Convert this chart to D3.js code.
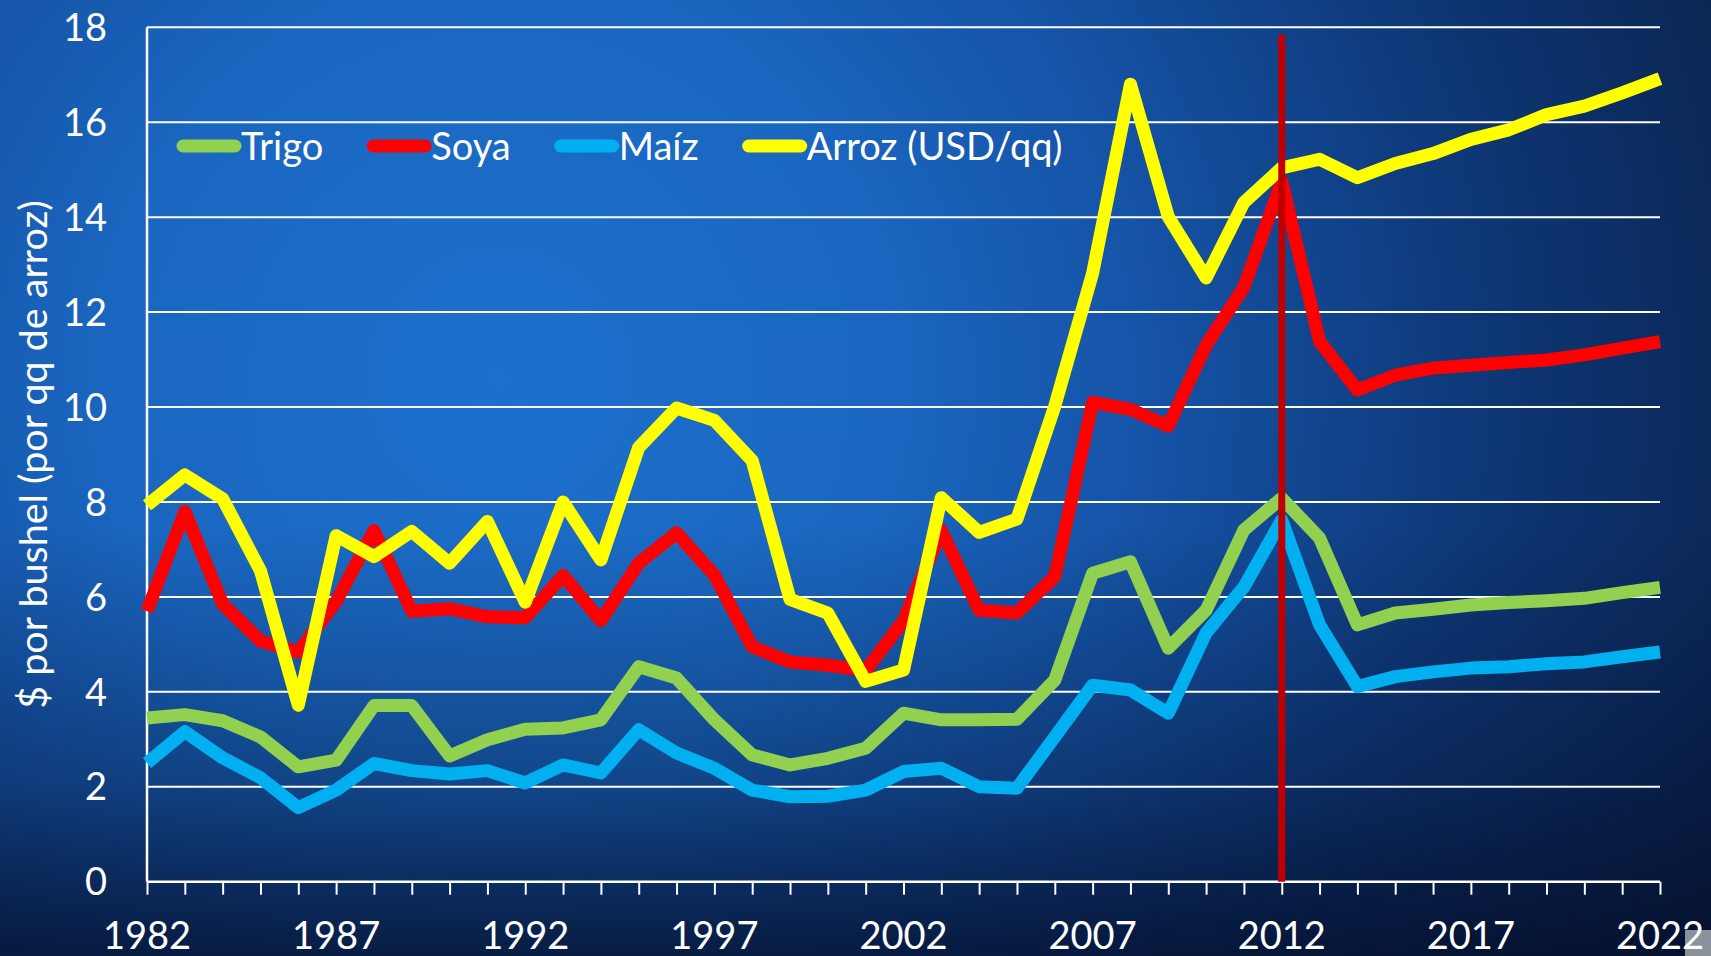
<!DOCTYPE html>
<html>
<head>
<meta charset="utf-8">
<script src="https://cdn.jsdelivr.net/npm/d3@7"></script>
<style>
  html, body { margin: 0; padding: 0; background: #0a2656; overflow: hidden; }
  svg { display: block; }
  text { font-family: Lato, "Open Sans", sans-serif; fill: #ffffff; }
</style>
</head>
<body>
<script>
// ---- data ----
const years = d3.range(1982, 2023);
const seriesNames = ["Trigo", "Soya", "Maíz", "Arroz (USD/qq)"];
const seriesColors = ["#92D050", "#FF0000", "#00B0F0", "#FFFF00"];
const trigo = [3.45, 3.52, 3.39, 3.05, 2.42, 2.56, 3.71, 3.71, 2.65, 2.99,
               3.21, 3.24, 3.41, 4.53, 4.29, 3.41, 2.67, 2.46, 2.60, 2.81,
               3.55, 3.41, 3.41, 3.42, 4.25, 6.50, 6.74, 4.92, 5.72, 7.41,
               8.08, 7.24, 5.41, 5.66, 5.74, 5.83, 5.88, 5.92, 5.97, 6.09, 6.20];
const soya  = [5.70, 7.80, 5.85, 5.07, 4.84, 5.90, 7.40, 5.70, 5.75, 5.58,
               5.56, 6.45, 5.50, 6.71, 7.35, 6.46, 4.95, 4.63, 4.56, 4.45,
               5.50, 7.40, 5.72, 5.66, 6.43, 10.10, 9.95, 9.60, 11.30, 12.53,
               14.75, 11.38, 10.36, 10.67, 10.82, 10.88, 10.94, 10.99, 11.10, 11.24, 11.38];
const maiz  = [2.50, 3.16, 2.61, 2.19, 1.56, 1.93, 2.49, 2.34, 2.27, 2.34,
               2.08, 2.46, 2.29, 3.20, 2.71, 2.39, 1.93, 1.79, 1.80, 1.93,
               2.32, 2.39, 2.00, 1.97, 3.05, 4.14, 4.04, 3.55, 5.24, 6.21,
               7.62, 5.41, 4.11, 4.32, 4.42, 4.50, 4.53, 4.59, 4.63, 4.74, 4.84];
const arroz = [7.93, 8.57, 8.07, 6.55, 3.72, 7.29, 6.85, 7.38, 6.71, 7.59,
               5.89, 8.00, 6.78, 9.15, 9.98, 9.72, 8.87, 5.95, 5.66, 4.22,
               4.46, 8.09, 7.36, 7.64, 10.02, 12.82, 16.80, 14.01, 12.72, 14.31,
               15.04, 15.22, 14.83, 15.13, 15.34, 15.64, 15.84, 16.16, 16.34, 16.62, 16.92];
const yTicks = [0, 2, 4, 6, 8, 10, 12, 14, 16, 18];
const xTickLabels = [1982, 1987, 1992, 1997, 2002, 2007, 2012, 2017, 2022];
const markerYear = 2012;
const markerTop = 17.84;
const yTitle = "$ por bushel (por qq de arroz)";

const seriesValues = [trigo, soya, maiz, arroz];

// ---- layout ----
const W = 1711, H = 956;
const svg = d3.select("body").append("svg").attr("width", W).attr("height", H);
const defs = svg.append("defs");

const rg = defs.append("radialGradient").attr("id", "bgR")
  .attr("gradientUnits", "userSpaceOnUse").attr("cx", 500).attr("cy", 380).attr("r", 1300);
[[0, "#1c71cd"], [0.3, "#1a66c0"], [0.5, "#1553a6"], [0.75, "#0e3878"], [1, "#0a2450"]]
  .forEach(([o, c]) => rg.append("stop").attr("offset", o).attr("stop-color", c));
const lg = defs.append("linearGradient").attr("id", "bgV")
  .attr("gradientUnits", "userSpaceOnUse").attr("x1", 0).attr("y1", 0).attr("x2", 0).attr("y2", H);
[[0, 0], [0.55, 0], [0.82, 0.35], [1, 0.78]]
  .forEach(([o, a]) => lg.append("stop").attr("offset", o).attr("stop-color", "#030c26").attr("stop-opacity", a));

svg.append("rect").attr("width", W).attr("height", H).attr("fill", "url(#bgR)");
svg.append("rect").attr("width", W).attr("height", H).attr("fill", "url(#bgV)");

const x = d3.scaleLinear().domain([1982, 2022]).range([147, 1660]);
const y = d3.scaleLinear().domain([0, 18]).range([881.7, 27.3]);

// gridlines
svg.append("g").selectAll("line").data(yTicks.filter(d => d > 0)).join("line")
  .attr("x1", x(1982)).attr("x2", x(2022))
  .attr("y1", d => y(d)).attr("y2", d => y(d))
  .attr("stroke", "#ffffff").attr("stroke-width", 2);

// y axis line
svg.append("line").attr("x1", x(1982)).attr("x2", x(1982))
  .attr("y1", y(18)).attr("y2", y(0)).attr("stroke", "#ffffff").attr("stroke-width", 2.5);

// y tick labels
svg.append("g").selectAll("text").data(yTicks).join("text")
  .attr("x", 107).attr("y", d => y(d)).attr("dy", "0.36em")
  .attr("text-anchor", "end").attr("font-size", 38).text(d => d);

// y title
svg.append("text")
  .attr("transform", `translate(47, ${(y(0) + y(18)) / 2}) rotate(-90)`)
  .attr("text-anchor", "middle").attr("font-size", 39.5).text(yTitle);

// x axis (line + ticks)
const xAxis = d3.axisBottom(x).tickValues(years).tickSize(13).tickFormat("");
const gx = svg.append("g").attr("transform", `translate(0, ${y(0)})`).call(xAxis);
gx.select(".domain").attr("stroke", "#ffffff").attr("stroke-width", 2.5).attr("d", `M${x(1982)},0H${x(2022)}`);
gx.selectAll(".tick line").attr("stroke", "#ffffff").attr("stroke-width", 2);

// corner artifact
svg.append("rect").attr("x", 1685).attr("y", 930).attr("width", 26).attr("height", 26).attr("fill", "#8a919b");

// x labels
svg.append("g").selectAll("text").data(xTickLabels).join("text")
  .attr("x", d => x(d)).attr("y", 949)
  .attr("text-anchor", "middle").attr("font-size", 38).text(d => d);

// series lines
const line = d3.line().x((d, i) => x(years[i])).y(d => y(d));
svg.append("g").selectAll("path").data(seriesValues).join("path")
  .attr("d", d => line(d))
  .attr("fill", "none")
  .attr("stroke", (d, i) => seriesColors[i])
  .attr("stroke-width", 13)
  .attr("stroke-linejoin", "round")
  .attr("stroke-linecap", "butt");

// vertical marker
svg.append("line").attr("x1", x(markerYear)).attr("x2", x(markerYear))
  .attr("y1", y(markerTop)).attr("y2", y(0))
  .attr("stroke", "#C00000").attr("stroke-width", 7);

// legend
const legend = svg.append("g");
let lx = 183;
const ly = 146;
seriesNames.forEach((name, i) => {
  legend.append("line").attr("x1", lx).attr("x2", lx + 52).attr("y1", ly).attr("y2", ly)
    .attr("stroke", seriesColors[i]).attr("stroke-width", 13).attr("stroke-linecap", "round");
  const t = legend.append("text").attr("x", lx + 58).attr("y", ly).attr("dy", "0.36em")
    .attr("font-size", 38).text(name);
  const w = t.node().getComputedTextLength();
  lx = lx + 58 + w + 50;
});
</script>
</body>
</html>
